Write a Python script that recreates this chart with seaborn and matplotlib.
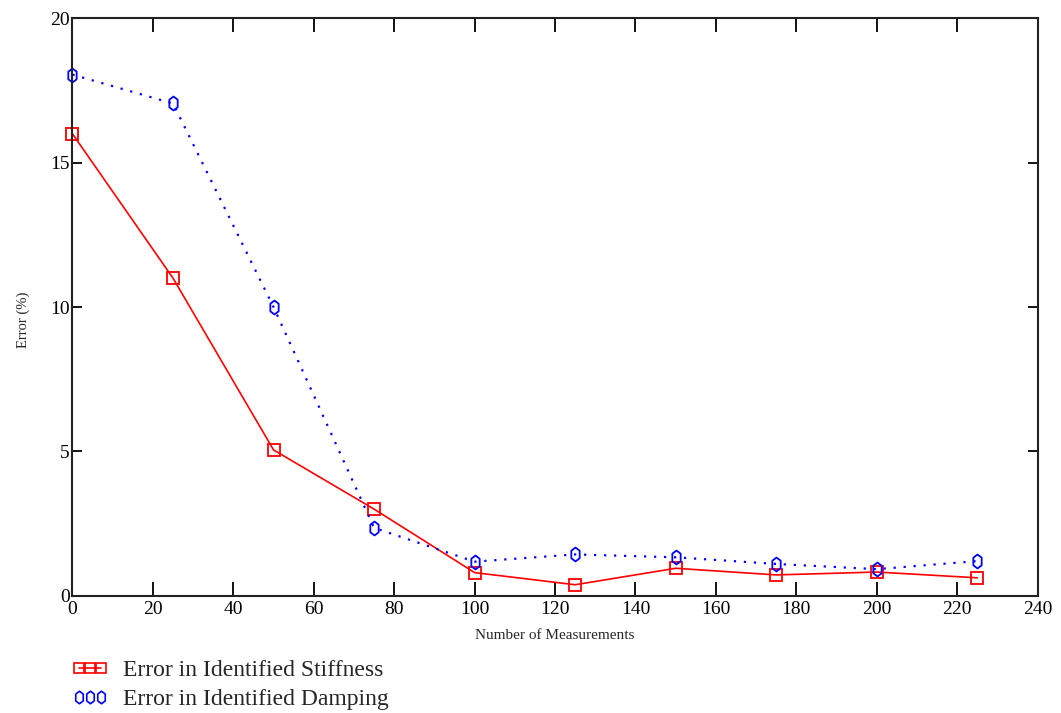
import numpy as np
import pandas as pd
import matplotlib.pyplot as plt
import seaborn as sns
from matplotlib.path import Path
from matplotlib.lines import Line2D

sns.set_style('ticks')
plt.rcParams['font.family'] = ['Liberation Serif', 'DejaVu Serif']

# data
measurements = [0, 25, 50, 75, 100, 125, 150, 175, 200, 225]
err_stiffness = [16.0, 11.0, 5.05, 3.0, 0.8, 0.38, 0.95, 0.72, 0.82, 0.62]
err_damping = [18.05, 17.05, 10.0, 2.35, 1.18, 1.43, 1.33, 1.1, 0.92, 1.2]

lbl_stiff = 'Error in Identified Stiffness'
lbl_damp = 'Error in Identified Damping'

df = pd.DataFrame({
    'n': measurements * 2,
    'err': err_stiffness + err_damping,
    'series': [lbl_stiff] * len(measurements) + [lbl_damp] * len(measurements),
})

# narrow hexagon marker like the mathcad one
hexa = Path([(0, 1), (0.6, 0.55), (0.6, -0.55), (0, -1), (-0.6, -0.55),
             (-0.6, 0.55), (0, 1)],
            [Path.MOVETO] + [Path.LINETO] * 5 + [Path.CLOSEPOLY])

fig = plt.figure(figsize=(10.61, 7.13), dpi=100)
ax = fig.add_axes([0.0683, 0.1645, 0.9097, 0.8098])

sns.lineplot(data=df[df.series == lbl_stiff], x='n', y='err', ax=ax,
             color='#ff0000', linewidth=1.2, marker='s', markersize=8,
             markerfacecolor='none', markeredgecolor='#ff0000',
             markeredgewidth=1.3, legend=False, clip_on=False)
sns.lineplot(data=df[df.series == lbl_damp], x='n', y='err', ax=ax,
             color='#0000ff', linewidth=1.6, linestyle=(0, (1, 3.5)),
             marker=hexa, markersize=10, markerfacecolor='none',
             markeredgecolor='#0000ff', markeredgewidth=1.3, legend=False,
             clip_on=False)

ax.set_xlim(0, 240)
ax.set_ylim(0, 20)
ax.set_xticks(np.arange(0, 241, 20))
ax.set_yticks(np.arange(0, 21, 5))
ax.tick_params(direction='in', width=1.3, top=True, right=True,
               labelsize=14, colors='black', pad=4)
ax.tick_params(axis='x', length=10)
ax.tick_params(axis='y', length=7, pad=2)
for s in ax.spines.values():
    s.set_linewidth(1.5)
    s.set_color('#222222')
ax.set_xlabel('Number of Measurements', fontsize=11, labelpad=8)
ax.set_ylabel('Error (%)', fontsize=10.5)
ax.yaxis.set_label_coords(-0.044, 0.477)

handles = [
    Line2D([], [], color='#ff0000', lw=1.2, marker='s', markersize=7,
           markerfacecolor='none', markeredgewidth=1.2),
    Line2D([], [], color='#0000ff', lw=0, marker=hexa, markersize=9,
           markerfacecolor='none', markeredgewidth=1.2),
]
fig.legend(handles, [lbl_stiff, lbl_damp], loc='upper left',
           bbox_to_anchor=(0.0585, 0.088), frameon=False, fontsize=17,
           numpoints=3, handlelength=1.53, handletextpad=0.64,
           labelspacing=0.3, borderaxespad=0)

fig.savefig('out.png', dpi=100)
